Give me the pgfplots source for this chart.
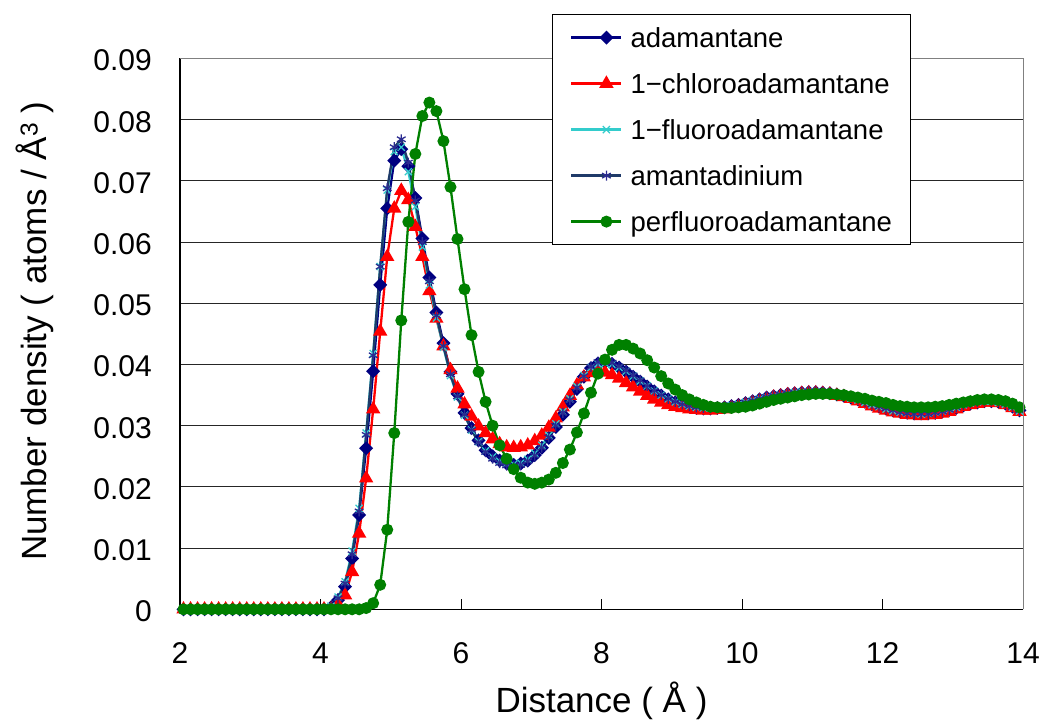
\documentclass[border=0pt]{standalone}
\usepackage{fontspec}
\setmainfont{Liberation Sans}
\usepackage{pgfplots}
\usepackage{pgfplotstable}
\pgfplotsset{compat=1.18}
\usetikzlibrary{calc}

\definecolor{cNavy}{HTML}{000080}
\definecolor{cRed}{HTML}{FF0000}
\definecolor{cCyan}{HTML}{33CCCC}
\definecolor{cAmLine}{HTML}{1F3A68}
\definecolor{cAmMark}{HTML}{2B2B90}
\definecolor{cGreen}{HTML}{008000}

\pgfplotstableread{
x y
2.05 0
2.15 0
2.25 0
2.35 0
2.45 0
2.55 0
2.65 0
2.75 0
2.85 0
2.95 0
3.05 0
3.15 0
3.25 0
3.35 0
3.45 0
3.55 0
3.65 0
3.75 0
3.85 0
3.95 0
4.05 0
4.15 0.0003
4.25 0.0015
4.35 0.0037
4.45 0.0083
4.55 0.0154
4.65 0.0263
4.75 0.0389
4.85 0.0530
4.95 0.0655
5.05 0.0733
5.15 0.0752
5.25 0.0724
5.35 0.0672
5.45 0.0606
5.55 0.0542
5.65 0.0485
5.75 0.0435
5.85 0.0388
5.95 0.0352
6.05 0.0321
6.15 0.0296
6.25 0.0276
6.35 0.0260
6.45 0.0250
6.55 0.0243
6.65 0.0238
6.75 0.0236
6.85 0.0238
6.95 0.0243
7.05 0.0252
7.15 0.0264
7.25 0.0280
7.35 0.0298
7.45 0.0318
7.55 0.0339
7.65 0.0360
7.75 0.0380
7.85 0.0394
7.95 0.0402
8.05 0.0404
8.15 0.0401
8.25 0.0395
8.35 0.0388
8.45 0.0380
8.55 0.0372
8.65 0.0364
8.75 0.0356
8.85 0.0349
8.95 0.0343
9.05 0.0338
9.15 0.0334
9.25 0.0331
9.35 0.0329
9.45 0.0328
9.55 0.0328
9.65 0.0329
9.75 0.0330
9.85 0.0332
9.95 0.0334
10.05 0.0337
10.15 0.0340
10.25 0.0343
10.35 0.0346
10.45 0.0348
10.55 0.0350
10.65 0.0352
10.75 0.0353
10.85 0.0354
10.95 0.0355
11.05 0.0355
11.15 0.0354
11.25 0.0353
11.35 0.0351
11.45 0.0349
11.55 0.0346
11.65 0.0343
11.75 0.0339
11.85 0.0335
11.95 0.0331
12.05 0.0328
12.15 0.0325
12.25 0.0323
12.35 0.0321
12.45 0.0320
12.55 0.0320
12.65 0.0320
12.75 0.0321
12.85 0.0323
12.95 0.0326
13.05 0.0329
13.15 0.0333
13.25 0.0336
13.35 0.0338
13.45 0.0340
13.55 0.0340
13.65 0.0339
13.75 0.0336
13.85 0.0331
13.95 0.0325
}\tabA

\pgfplotstableread{
x y
2.05 0
2.15 0
2.25 0
2.35 0
2.45 0
2.55 0
2.65 0
2.75 0
2.85 0
2.95 0
3.05 0
3.15 0
3.25 0
3.35 0
3.45 0
3.55 0
3.65 0
3.75 0
3.85 0
3.95 0
4.05 0
4.15 0
4.25 0.0008
4.35 0.0023
4.45 0.0061
4.55 0.0124
4.65 0.0214
4.75 0.0327
4.85 0.0454
4.95 0.0576
5.05 0.0655
5.15 0.0684
5.25 0.0669
5.35 0.0625
5.45 0.0576
5.55 0.0520
5.65 0.0475
5.75 0.0430
5.85 0.0391
5.95 0.0361
6.05 0.0335
6.15 0.0315
6.25 0.0299
6.35 0.0288
6.45 0.0278
6.55 0.0270
6.65 0.0265
6.75 0.0264
6.85 0.0265
6.95 0.0268
7.05 0.0275
7.15 0.0284
7.25 0.0297
7.35 0.0312
7.45 0.0330
7.55 0.0349
7.65 0.0366
7.75 0.0379
7.85 0.0386
7.95 0.0388
8.05 0.0387
8.15 0.0383
8.25 0.0377
8.35 0.0370
8.45 0.0363
8.55 0.0356
8.65 0.0349
8.75 0.0343
8.85 0.0338
8.95 0.0334
9.05 0.0331
9.15 0.0329
9.25 0.0327
9.35 0.0326
9.45 0.0325
9.55 0.0325
9.65 0.0326
9.75 0.0327
9.85 0.0329
9.95 0.0331
10.05 0.0334
10.15 0.0337
10.25 0.0340
10.35 0.0343
10.45 0.0346
10.55 0.0348
10.65 0.0350
10.75 0.0351
10.85 0.0352
10.95 0.0353
11.05 0.0353
11.15 0.0352
11.25 0.0351
11.35 0.0349
11.45 0.0347
11.55 0.0344
11.65 0.0340
11.75 0.0336
11.85 0.0332
11.95 0.0328
12.05 0.0325
12.15 0.0322
12.25 0.0320
12.35 0.0318
12.45 0.0317
12.55 0.0316
12.65 0.0317
12.75 0.0318
12.85 0.0320
12.95 0.0323
13.05 0.0327
13.15 0.0331
13.25 0.0334
13.35 0.0336
13.45 0.0338
13.55 0.0338
13.65 0.0337
13.75 0.0334
13.85 0.0329
13.95 0.0323
}\tabC

\pgfplotstableread{
x y
2.05 0
2.15 0
2.25 0
2.35 0
2.45 0
2.55 0
2.65 0
2.75 0
2.85 0
2.95 0
3.05 0
3.15 0
3.25 0
3.35 0
3.45 0
3.55 0
3.65 0
3.75 0
3.85 0
3.95 0
4.05 0
4.15 0.0005
4.25 0.0020
4.35 0.0045
4.45 0.0095
4.55 0.0165
4.65 0.0288
4.75 0.0418
4.85 0.0560
4.95 0.0685
5.05 0.0748
5.15 0.0755
5.25 0.0715
5.35 0.0658
5.45 0.0592
5.55 0.0530
5.65 0.0476
5.75 0.0428
5.85 0.0382
5.95 0.0347
6.05 0.0317
6.15 0.0293
6.25 0.0274
6.35 0.0259
6.45 0.0249
6.55 0.0242
6.65 0.0238
6.75 0.0237
6.85 0.0239
6.95 0.0245
7.05 0.0255
7.15 0.0268
7.25 0.0284
7.35 0.0303
7.45 0.0323
7.55 0.0344
7.65 0.0364
7.75 0.0382
7.85 0.0395
7.95 0.0401
8.05 0.0402
8.15 0.0400
8.25 0.0395
8.35 0.0389
8.45 0.0381
8.55 0.0373
8.65 0.0365
8.75 0.0357
8.85 0.0350
8.95 0.0344
9.05 0.0339
9.15 0.0335
9.25 0.0332
9.35 0.0330
9.45 0.0329
9.55 0.0329
9.65 0.0330
9.75 0.0331
9.85 0.0333
9.95 0.0335
10.05 0.0338
10.15 0.0341
10.25 0.0344
10.35 0.0346
10.45 0.0348
10.55 0.0350
10.65 0.0352
10.75 0.0354
10.85 0.0355
10.95 0.0355
11.05 0.0355
11.15 0.0354
11.25 0.0352
11.35 0.0350
11.45 0.0348
11.55 0.0345
11.65 0.0342
11.75 0.0338
11.85 0.0334
11.95 0.0331
12.05 0.0327
12.15 0.0324
12.25 0.0322
12.35 0.0321
12.45 0.0320
12.55 0.0319
12.65 0.0320
12.75 0.0322
12.85 0.0324
12.95 0.0327
13.05 0.0330
13.15 0.0334
13.25 0.0337
13.35 0.0339
13.45 0.0340
13.55 0.0340
13.65 0.0338
13.75 0.0335
13.85 0.0330
13.95 0.0324
}\tabF

\pgfplotstableread{
x y
2.05 0
2.15 0
2.25 0
2.35 0
2.45 0
2.55 0
2.65 0
2.75 0
2.85 0
2.95 0
3.05 0
3.15 0
3.25 0
3.35 0
3.45 0
3.55 0
3.65 0
3.75 0
3.85 0
3.95 0
4.05 0
4.15 0.0004
4.25 0.0018
4.35 0.0042
4.45 0.0090
4.55 0.0160
4.65 0.0285
4.75 0.0415
4.85 0.0560
4.95 0.0688
5.05 0.0755
5.15 0.0768
5.25 0.0730
5.35 0.0668
5.45 0.0600
5.55 0.0536
5.65 0.0480
5.75 0.0430
5.85 0.0384
5.95 0.0348
6.05 0.0318
6.15 0.0293
6.25 0.0273
6.35 0.0257
6.45 0.0246
6.55 0.0239
6.65 0.0235
6.75 0.0234
6.85 0.0236
6.95 0.0242
7.05 0.0251
7.15 0.0264
7.25 0.0281
7.35 0.0300
7.45 0.0321
7.55 0.0342
7.65 0.0362
7.75 0.0381
7.85 0.0396
7.95 0.0404
8.05 0.0406
8.15 0.0403
8.25 0.0397
8.35 0.0390
8.45 0.0382
8.55 0.0374
8.65 0.0365
8.75 0.0357
8.85 0.0350
8.95 0.0344
9.05 0.0339
9.15 0.0335
9.25 0.0332
9.35 0.0330
9.45 0.0329
9.55 0.0329
9.65 0.0330
9.75 0.0331
9.85 0.0333
9.95 0.0335
10.05 0.0338
10.15 0.0341
10.25 0.0344
10.35 0.0347
10.45 0.0349
10.55 0.0351
10.65 0.0353
10.75 0.0354
10.85 0.0355
10.95 0.0356
11.05 0.0356
11.15 0.0355
11.25 0.0354
11.35 0.0352
11.45 0.0350
11.55 0.0347
11.65 0.0343
11.75 0.0339
11.85 0.0335
11.95 0.0331
12.05 0.0328
12.15 0.0325
12.25 0.0322
12.35 0.0320
12.45 0.0319
12.55 0.0319
12.65 0.0319
12.75 0.0321
12.85 0.0323
12.95 0.0326
13.05 0.0330
13.15 0.0334
13.25 0.0337
13.35 0.0339
13.45 0.0341
13.55 0.0341
13.65 0.0339
13.75 0.0336
13.85 0.0331
13.95 0.0325
}\tabS

\pgfplotstableread{
x y
2.05 0
2.15 0
2.25 0
2.35 0
2.45 0
2.55 0
2.65 0
2.75 0
2.85 0
2.95 0
3.05 0
3.15 0
3.25 0
3.35 0
3.45 0
3.55 0
3.65 0
3.75 0
3.85 0
3.95 0
4.05 0
4.15 0
4.25 0
4.35 0
4.45 0
4.55 0
4.65 0.0002
4.75 0.0010
4.85 0.0040
4.95 0.0130
5.05 0.0288
5.15 0.0472
5.25 0.0633
5.35 0.0744
5.45 0.0806
5.55 0.0828
5.65 0.0814
5.75 0.0765
5.85 0.0690
5.95 0.0605
6.05 0.0523
6.15 0.0448
6.25 0.0388
6.35 0.0339
6.45 0.0300
6.55 0.0268
6.65 0.0246
6.75 0.0229
6.85 0.0215
6.95 0.0207
7.05 0.0205
7.15 0.0207
7.25 0.0212
7.35 0.0223
7.45 0.0239
7.55 0.0261
7.65 0.0289
7.75 0.0320
7.85 0.0354
7.95 0.0385
8.05 0.0408
8.15 0.0424
8.25 0.0432
8.35 0.0432
8.45 0.0426
8.55 0.0418
8.65 0.0407
8.75 0.0395
8.85 0.0381
8.95 0.0369
9.05 0.0359
9.15 0.0350
9.25 0.0343
9.35 0.0338
9.45 0.0334
9.55 0.0331
9.65 0.0330
9.75 0.0329
9.85 0.0329
9.95 0.0330
10.05 0.0331
10.15 0.0333
10.25 0.0336
10.35 0.0339
10.45 0.0342
10.55 0.0344
10.65 0.0346
10.75 0.0348
10.85 0.0350
10.95 0.0351
11.05 0.0352
11.15 0.0352
11.25 0.0352
11.35 0.0351
11.45 0.0350
11.55 0.0348
11.65 0.0346
11.75 0.0344
11.85 0.0341
11.95 0.0339
12.05 0.0337
12.15 0.0334
12.25 0.0332
12.35 0.0331
12.45 0.0330
12.55 0.0330
12.65 0.0330
12.75 0.0331
12.85 0.0332
12.95 0.0334
13.05 0.0336
13.15 0.0338
13.25 0.0340
13.35 0.0342
13.45 0.0343
13.55 0.0343
13.65 0.0342
13.75 0.0340
13.85 0.0336
13.95 0.0330
}\tabP

\begin{document}
\begin{tikzpicture}
\begin{axis}[
  name=ax,
  scale only axis,
  width=843bp, height=550.8bp,
  xmin=2, xmax=14, ymin=0, ymax=0.09,
  scaled y ticks=false,
  xtick={2,4,6,8,10,12,14},
  xticklabels={2,4,6,8,10,12,14},
  ytick={0,0.01,0.02,0.03,0.04,0.05,0.06,0.07,0.08,0.09},
  yticklabels={0,0.01,0.02,0.03,0.04,0.05,0.06,0.07,0.08,0.09},
  ymajorgrids,
  grid style={black!85, line width=1.1bp},
  axis x line*=bottom, axis y line*=left,
  axis line style={black, line width=1.2bp, -},
  tick align=inside,
  major tick length=10bp,
  xtick style={black, line width=1bp},
  ytick style={draw=none},
  ticklabel style={font=\fontsize{30bp}{34bp}\selectfont},
  xticklabel style={anchor=base},
  xticklabel shift=54bp,
  yticklabel style={anchor=east, inner sep=0pt, yshift=-2bp},
  yticklabel shift=28bp,
  xlabel={Distance ( Å )},
  ylabel={Number density ( atoms / Å\textsuperscript{3} )},
  label style={font=\fontsize{35bp}{40bp}\selectfont},
  xlabel style={at={(axis description cs:0.5,-0.188)}, anchor=base},
  ylabel style={at={(axis description cs:-0.172,0.505)}, anchor=center},
  legend style={
    at={(axis description cs:0.441,1.081)}, anchor=north west,
    draw=black, line width=1bp, fill=white,
    font=\fontsize{27.5bp}{30bp}\selectfont,
    inner xsep=18bp, inner ysep=12bp,
    row sep=23.5bp, column sep=8bp,
    nodes={inner sep=0pt},
  },
  legend cell align=left,
  legend image code/.code={
    \path (0bp,0bp) -- (20bp,0bp);
    \draw[mark repeat=2,mark phase=2] plot coordinates {(20bp,0bp) (35bp,0bp) (50bp,0bp)};
  },
  after end axis/.code={
    \draw[gray, line width=1bp] (rel axis cs:0,1) -- (rel axis cs:1,1) -- (rel axis cs:1,0);
  },
]
\addplot[cNavy, line width=2.3bp, mark=square*, mark size=3.8bp, mark options={rotate=45, solid, fill=cNavy}] table[x=x,y=y] {\tabA};
\addlegendentry{\strut adamantane}
\addplot[cRed, line width=2.3bp, mark=triangle*, mark size=6bp, mark options={solid, fill=cRed}] table[x=x,y=y] {\tabC};
\addlegendentry{\strut 1−chloroadamantane}
\addplot[cCyan, line width=2.3bp, mark=x, mark size=5bp, mark options={solid, line width=1.3bp}] table[x=x,y=y] {\tabF};
\addlegendentry{\strut 1−fluoroadamantane}
\addplot[cAmLine, line width=2.3bp, mark=asterisk, mark size=5bp, mark options={solid, draw=cAmMark, line width=1.3bp}] table[x=x,y=y] {\tabS};
\addlegendentry{\strut amantadinium}
\addplot[cGreen, line width=2.3bp, mark=*, mark size=4.8bp, mark options={solid, fill=cGreen, draw=cGreen}] table[x=x,y=y] {\tabP};
\addlegendentry{\strut perfluoroadamantane}
\end{axis}
\pgfresetboundingbox
\path[use as bounding box] ($(ax.south west)+(-180bp,-112.7bp)$) rectangle ($(ax.north east)+(21bp,58.5bp)$);
\end{tikzpicture}
\end{document}
